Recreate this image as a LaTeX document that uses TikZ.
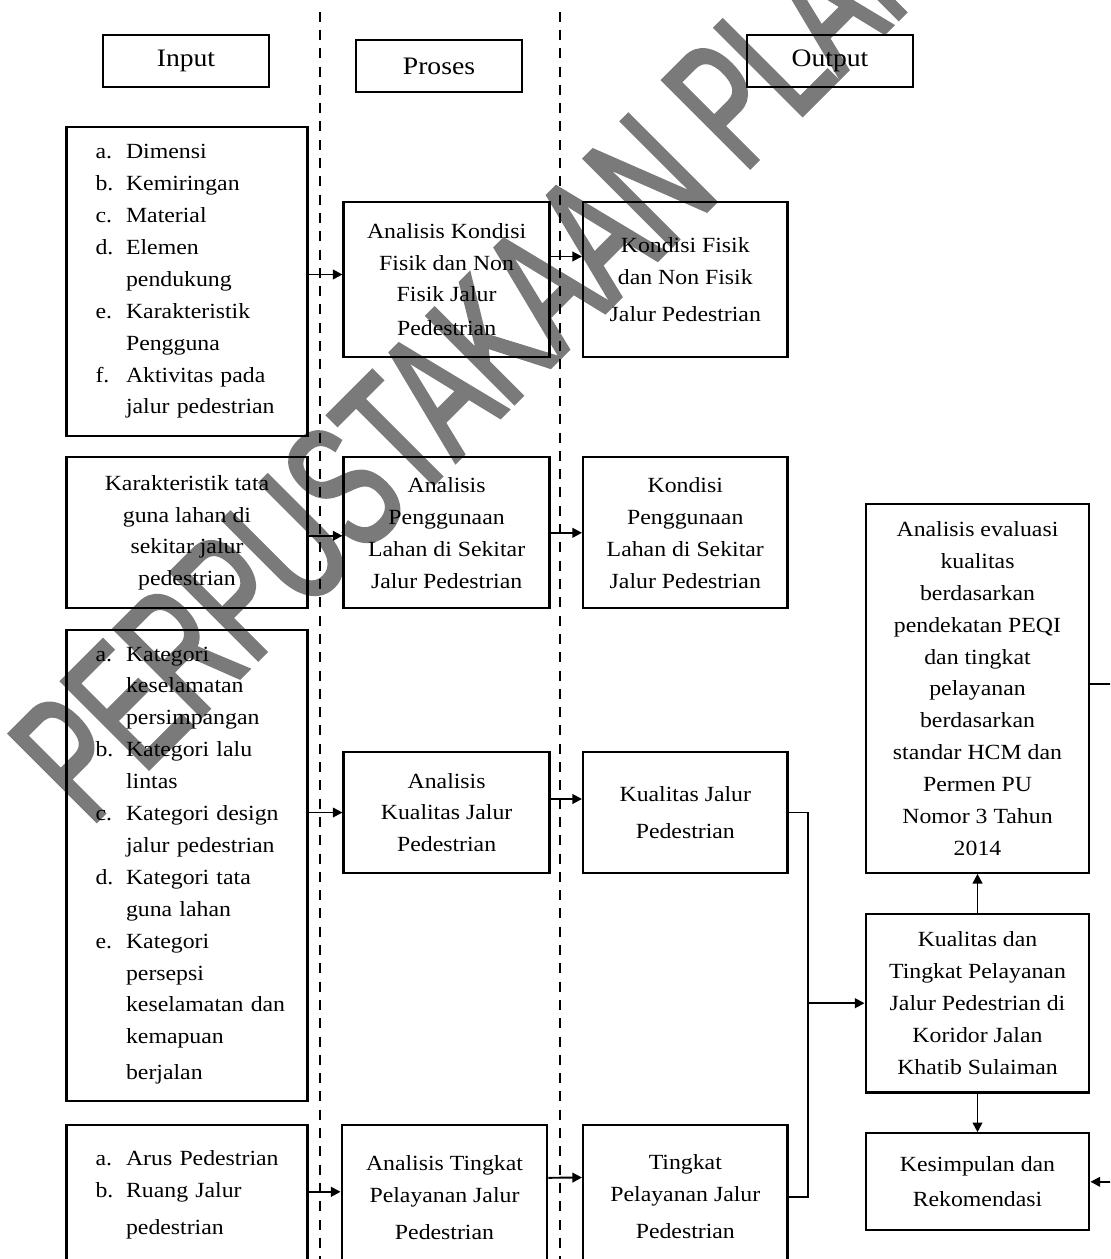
\documentclass[tikz,border=0pt]{standalone}
\usepackage{fontspec}
\usepackage{graphicx}
\setmainfont{Liberation Serif}[FakeStretch=1.1]
\newfontfamily\capfont{Liberation Sans}[FakeStretch=0.62, FakeBold=2]
\usetikzlibrary{arrows.meta}
\newcommand{\butir}[1]{\hspace*{0.27cm}\makebox[17.4pt][l]{#1}}
\tikzset{
  kotak/.style={draw, line width=1.3pt, inner sep=0pt, align=center,
    font=\fontsize{12.3}{18.15}\selectfont},
  daftar/.style={kotak, align=left, text width=4.2cm},
  judul/.style={kotak, font=\fontsize{14.3}{16}\selectfont,
    minimum width=3.33cm, minimum height=1.04cm},
  panah/.style={line width=1.1pt, -{Triangle[length=5.5pt,width=5.5pt]}},
  garis/.style={line width=1.1pt},
  batas/.style={line width=1.1pt, dash pattern=on 0.2cm off 0.166cm},
}
\begin{document}
\begin{tikzpicture}
  \useasboundingbox (0,0) rectangle (22.2,-25.18);
  \clip (0,0) rectangle (22.2,-25.18);

  % cap perpustakaan
  \node[rotate=45, anchor=base west, inner sep=0pt, text=black!52,
    font=\capfont\fontsize{102}{102}\selectfont] (cap) at (1.8,-16.55) {PERPUSTAKAAN PLAN};

  \draw[batas] (6.392,-0.234) -- (6.392,-25.3);
  \draw[batas] (11.206,-0.234) -- (11.206,-25.3);

  \node[judul] (hIn) at (3.72,-1.22) {Input};
  \node[judul] (hPr) at (8.78,-1.32) {Proses};
  \node[judul] (hOut) at (16.6,-1.22) {Output};

  % input
  \node[daftar, minimum width=4.82cm, minimum height=6.17cm] (a1) at (3.74,-5.63)
    {\butir{a.}Dimensi\\ \butir{b.}Kemiringan\\ \butir{c.}Material\\ \butir{d.}Elemen\\
     \butir{}pendukung\\ \butir{e.}Karakteristik\\ \butir{}Pengguna\\ \butir{f.}Aktivitas pada\\
     \butir{}jalur pedestrian};
  \node[kotak, minimum width=4.82cm, minimum height=3.02cm] (a2) at (3.74,-10.656)
    {Karakteristik tata\\guna lahan di\\sekitar jalur\\pedestrian};
  \node[daftar, minimum width=4.82cm, minimum height=9.414cm] (a3) at (3.74,-17.306)
    {\butir{a.}Kategori\\ \butir{}keselamatan\\ \butir{}persimpangan\\ \butir{b.}Kategori lalu\\
     \butir{}lintas\\ \butir{c.}Kategori design\\ \butir{}jalur pedestrian\\ \butir{d.}Kategori tata\\
     \butir{}guna lahan\\ \butir{e.}Kategori\\ \butir{}persepsi\\ \butir{}keselamatan dan\\
     \butir{}kemapuan\\[2pt] \butir{}berjalan};
  \node[daftar, minimum width=4.82cm, minimum height=2.806cm] (a4) at (3.74,-23.896)
    {\butir{a.}Arus Pedestrian\\ \butir{b.}Ruang Jalur\\[3pt] \butir{}pedestrian};

  % proses
  \node[kotak, minimum width=4.12cm, minimum height=3.112cm] (p1) at (8.932,-5.59)
    {Analisis Kondisi\\Fisik dan Non\\Fisik Jalur\\[1pt]Pedestrian};
  \node[kotak, minimum width=4.12cm, minimum height=3.02cm] (p2) at (8.932,-10.656)
    {Analisis\\Penggunaan\\Lahan di Sekitar\\Jalur Pedestrian};
  \node[kotak, minimum width=4.12cm, minimum height=2.432cm] (p3) at (8.932,-16.25)
    {Analisis\\Kualitas Jalur\\Pedestrian};
  \node[kotak, minimum width=4.11cm, minimum height=2.9cm] (p4) at (8.89,-23.946)
    {Analisis Tingkat\\Pelayanan Jalur\\[3pt]Pedestrian};

  % output
  \node[kotak, minimum width=4.086cm, minimum height=3.112cm] (o1) at (13.706,-5.59)
    {Kondisi Fisik\\dan Non Fisik\\[3pt]Jalur Pedestrian};
  \node[kotak, minimum width=4.086cm, minimum height=3.02cm] (o2) at (13.706,-10.656)
    {Kondisi\\Penggunaan\\Lahan di Sekitar\\Jalur Pedestrian};
  \node[kotak, minimum width=4.086cm, minimum height=2.432cm] (o3) at (13.706,-16.25)
    {Kualitas Jalur\\[3pt]Pedestrian};
  \node[kotak, minimum width=4.086cm, minimum height=2.88cm] (o4) at (13.706,-23.94)
    {Tingkat\\Pelayanan Jalur\\[3pt]Pedestrian};

  \node[kotak, minimum width=4.472cm, minimum height=7.368cm] (ev) at (19.55,-13.77)
    {Analisis evaluasi\\kualitas\\berdasarkan\\pendekatan PEQI\\dan tingkat\\pelayanan\\
     berdasarkan\\standar HCM dan\\Permen PU\\Nomor 3 Tahun\\2014};
  \node[kotak, minimum width=4.472cm, minimum height=3.566cm] (kt) at (19.55,-20.064)
    {Kualitas dan\\Tingkat Pelayanan\\Jalur Pedestrian di\\Koridor Jalan\\Khatib Sulaiman};
  \node[kotak, minimum width=4.472cm, minimum height=1.94cm] (ks) at (19.55,-23.636)
    {Kesimpulan dan\\[2pt]Rekomendasi};

  \draw[panah] ([yshift=1mm]a1.east |- p1.west) -- ([yshift=1mm]p1.west);
  \draw[panah] ([yshift=4.6mm]p1.east) -- ([yshift=4.6mm]o1.west);
  \draw[panah] ([yshift=-0.6mm]a2.east) -- ([yshift=-0.6mm]p2.west);
  \draw[panah] (p2.east) -- (o2.west);
  \draw[panah] (a3.east |- p3.west) -- (p3.west);
  \draw[panah] ([yshift=2.7mm]p3.east) -- ([yshift=2.7mm]o3.west);
  \draw[panah] ([yshift=1.1mm]a4.east |- p4.west) -- ([yshift=1.1mm]p4.west);
  \draw[panah] ([yshift=3.9mm]p4.east) -- ([yshift=3.9mm]o4.west);

  \draw[garis] (o3.east) -- ++(0.379,0) coordinate (sambung) |- (o4.east);
  \draw[panah] (sambung |- kt.west) -- (kt.west);
  \draw[panah] (kt.north) -- (ev.south);
  \draw[panah] (kt.south) -- (ks.north);
  \draw[panah] ([yshift=0.9mm]ev.east) -- ++(1.2,0) |- (ks.east);
\end{tikzpicture}
\end{document}
